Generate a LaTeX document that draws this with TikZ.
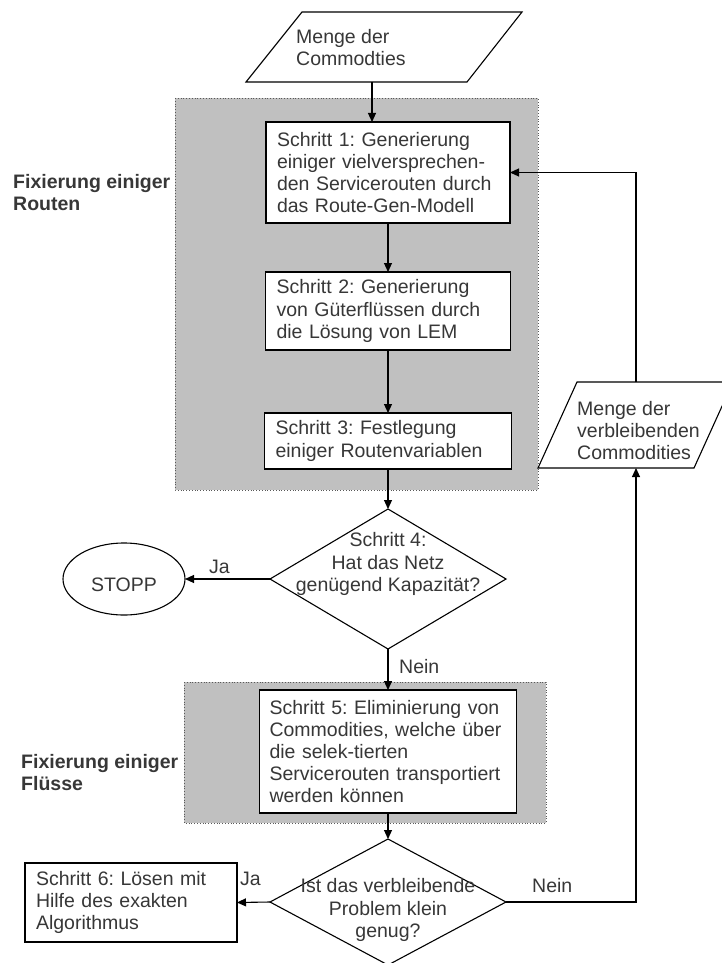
\documentclass[tikz,border=0pt]{standalone}
\usepackage{fontspec}
\setmainfont{Liberation Sans}
\usetikzlibrary{arrows.meta,shapes.geometric}
\definecolor{txt}{RGB}{55,55,55}
\definecolor{regiongray}{RGB}{192,192,192}
\frenchspacing
\begin{document}
\begin{tikzpicture}[x=1pt,y=-1pt,
  every node/.style={font=\fontsize{19.5pt}{22.2pt}\selectfont, text=txt},
  flowbox/.style={draw=black, fill=white, line width=1.1pt, inner xsep=11pt, inner ysep=0pt, align=left, outer sep=0pt},
  decision/.style={draw=black, diamond, fill=white, line width=1.1pt, inner sep=0pt, outer sep=0pt},
  terminal/.style={draw=black, ellipse, fill=white, line width=1.1pt, inner sep=0pt, outer sep=0pt},
  iobox/.style={draw=black, fill=white, line width=1.1pt},
  arr/.style={line width=1.1pt, draw=black, -{Triangle[length=9pt,width=8pt]}},
  region/.style={fill=regiongray, draw=black!65, dotted, line width=0.8pt},
  lbl/.style={anchor=base west, inner sep=0pt},
  blocktext/.style={anchor=north west, inner sep=0pt, align=left},
  regionlabel/.style={anchor=north west, inner sep=0pt, align=left, font=\fontsize{19.5pt}{22.2pt}\selectfont\bfseries},
]
\useasboundingbox (0,0) rectangle (721,963);

% shaded phases
\path[region] (175,98) rectangle (538,490);
\path[region] (184,682) rectangle (546,823);

% phase labels
\node[regionlabel] (lab1) at (13,174) {Fixierung einiger\\Routen};
\node[regionlabel] (lab2) at (21,754) {Fixierung einiger\\Flüsse};

% input: all commodities
\draw[iobox] (302,12) -- (522,12) -- (467,82) -- (246,82) -- cycle;
\node[blocktext] (in1) at (296,28.7) {Menge der\\Commodties};
\coordinate (in1b) at (372,82);

% remaining commodities
\draw[iobox] (577,382) -- (733,382) -- (694,468) -- (538,468) -- cycle;
\node[blocktext] (in2) at (577,401) {Menge der\\verbleibenden\\Commodities};
\coordinate (in2t) at (636,382);
\coordinate (in2b) at (636,468);

% process steps
\node[flowbox, text width=222pt, minimum width=244pt, minimum height=101pt] (b1) at (388,172.5)
  {Schritt 1: Generierung\\einiger vielversprechen-\\den Servicerouten durch\\das Route-Gen-Modell};
\node[flowbox, text width=223pt, minimum width=245pt, minimum height=78pt] (b2) at (388,311)
  {Schritt 2: Generierung\\von Güterflüssen durch\\die Lösung von LEM};
\node[flowbox, text width=225pt, minimum width=247pt, minimum height=56pt] (b3) at (388,441)
  {Schritt 3: Festlegung\\einiger Routenvariablen};
\node[flowbox, inner xsep=10pt, text width=237pt, minimum width=257pt, minimum height=123pt] (b5) at (388,751.5)
  {Schritt 5: Eliminierung von\\Commodities, welche über\\die selek-tierten\\Servicerouten transportiert\\werden können};
\node[flowbox, text width=190pt, minimum width=212pt, minimum height=79pt] (b6) at (131,902.5)
  {Schritt 6: Lösen mit\\Hilfe des exakten\\Algorithmus};

% decisions
\node[decision, minimum width=236pt, minimum height=140pt] (d1) at (388,579) {};
\node[align=center, inner sep=0pt] (d1t) at (388,564) {Schritt 4:\\Hat das Netz\\genügend Kapazität?};
\node[decision, minimum width=236pt, minimum height=126pt] (d2) at (388,902) {};
\node[align=center, inner sep=0pt] (d2t) at (388,910) {Ist das verbleibende\\Problem klein\\genug?};

% end
\node[terminal, minimum width=122pt, minimum height=72pt, text height=24pt, text depth=0pt] (stop) at (124,579) {STOPP};

% connectors
\draw[arr] (in1b) -- (in1b |- b1.north);
\draw[arr] (b1.south) -- (b2.north);
\draw[arr] (b2.south) -- (b3.north);
\draw[arr] (b3.south) -- (d1.north);
\draw[arr] (d1.west) -- (stop.east);
\draw[arr] (d1.south) -- (b5.north);
\draw[arr] (b5.south) -- (d2.north);
\draw[arr] (d2.west) -- (b6.east);
\draw[arr] (d2.east) -| (in2b);
\draw[arr] (in2t) |- (b1.east);

% branch labels
\node[lbl] (ja1) at (209,573) {Ja};
\node[lbl] (nein1) at (399,673) {Nein};
\node[lbl] (ja2) at (240,885) {Ja};
\node[lbl] (nein2) at (532,892) {Nein};
\end{tikzpicture}
\end{document}
